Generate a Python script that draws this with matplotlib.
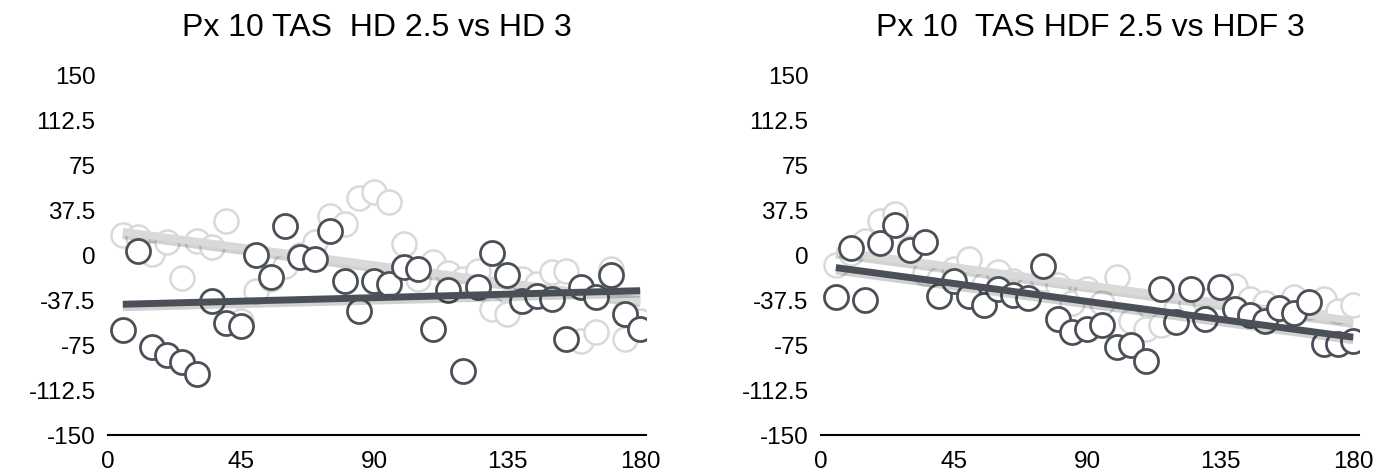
"""Scatter of TAS differences per pixel angle, two panels with linear trends."""

import matplotlib

matplotlib.use("Agg")
import matplotlib.pyplot as plt
import matplotlib.patheffects as pe
import numpy as np

plt.rcParams["font.family"] = ["Liberation Sans", "DejaVu Sans"]

ANGLES = [5, 10, 15, 20, 25, 30, 35, 40, 45, 50, 55, 60, 65, 70, 75, 80, 85, 90,
          95, 100, 105, 110, 115, 120, 125, 130, 135, 140, 145, 150, 155, 160,
          165, 170, 175, 180]

# left panel: HD 2.5 (light) vs HD 3 (dark)
HD25 = [17, 15, 1, 11, -19, 12, 7, 28, -55, -30, -20, -9, 0, 11, 32, 26, 47, 52,
        44, 9, -20, -6, -15, -20, -13, -45, -49, -20, -24, -14, -13, -72,
        -64, -12, -70, -55]
HD3 = [-62.5, 3, -77, -83, -89, -99, -38, -57, -59, 0, -18, 24, -2, -3, 20, -22,
       -47, -22, -24, -10, -12, -62, -29, -97, -27, 2, -17, -38, -34, -37,
       -70, -27, -35, -17, -49, -62]

# right panel: HDF 2.5 (light) vs HDF 3 (dark)
HDF25 = [-8, 2, 12, 28, 34, 6, -15, -20, -12, -3, -25, -14, -22, -28, -20, -25,
         -40, -28, -40, -18, -55, -62, -58, -45, -40, -38, -44, -26, -37, -40,
         -45, -35, -43, -37, -47, -42]
HDF3 = [-35, 6, -37.5, 10, 25, 4, 11, -34, -22, -34, -42, -28, -33, -36, -9, -53,
        -64, -62, -58, -77, -75, -88, -28, -56, -28, -53, -27, -45, -50, -55,
        -44, -48, -39, -74, -74, -72]

TITLES = ["Px 10 TAS  HD 2.5 vs HD 3", "Px 10  TAS HDF 2.5 vs HDF 3"]
X_TICKS = [0, 45, 90, 135, 180]
Y_TICKS = [150, 112.5, 75, 37.5, 0, -37.5, -75, -112.5, -150]
Y_LABELS = ["150", "112.5", "75", "37.5", "0", "-37.5", "-75", "-112.5", "-150"]

LIGHT = "#d9d9d9"
DARK = "#4b5058"


def draw_panel(axis, light, dark, title):
    x = np.array(ANGLES, dtype=float)
    shadow = [pe.SimpleLineShadow(offset=(0, -2.5), shadow_color="#000000", alpha=0.18),
              pe.Normal()]

    axis.scatter(x, light, s=300, facecolors="white", edgecolors=LIGHT,
                 linewidths=1.8, zorder=2)
    coef = np.polyfit(x, light, 1)
    axis.plot([x[0], x[-1]], np.polyval(coef, [x[0], x[-1]]), color=LIGHT,
              lw=5.5, solid_capstyle="butt", path_effects=shadow, zorder=3)

    axis.scatter(x, dark, s=300, facecolors="white", edgecolors=DARK,
                 linewidths=2.0, zorder=4)
    coef = np.polyfit(x, dark, 1)
    axis.plot([x[0], x[-1]], np.polyval(coef, [x[0], x[-1]]), color=DARK,
              lw=5, solid_capstyle="butt", path_effects=shadow, zorder=5)

    axis.set_xlim(0, 182)
    axis.set_ylim(-150, 150)
    axis.set_xticks(X_TICKS)
    axis.set_yticks(Y_TICKS)
    axis.set_yticklabels(Y_LABELS)
    axis.tick_params(length=0, labelsize=17.5, colors="black")
    axis.tick_params(axis="x", pad=11)
    axis.tick_params(axis="y", pad=9)
    for side in ("top", "right", "left"):
        axis.spines[side].set_visible(False)
    axis.spines["bottom"].set_linewidth(1.5)
    axis.spines["bottom"].set_color("black")
    axis.set_title(title, fontsize=23, pad=29)


fig = plt.figure(figsize=(13.94, 4.77), dpi=100)
ax_left = fig.add_axes([0.0775, 0.086, 0.386, 0.755])
ax_right = fig.add_axes([0.589, 0.086, 0.386, 0.755])

draw_panel(ax_left, HD25, HD3, TITLES[0])
draw_panel(ax_right, HDF25, HDF3, TITLES[1])

fig.savefig("out.png", dpi=100)
